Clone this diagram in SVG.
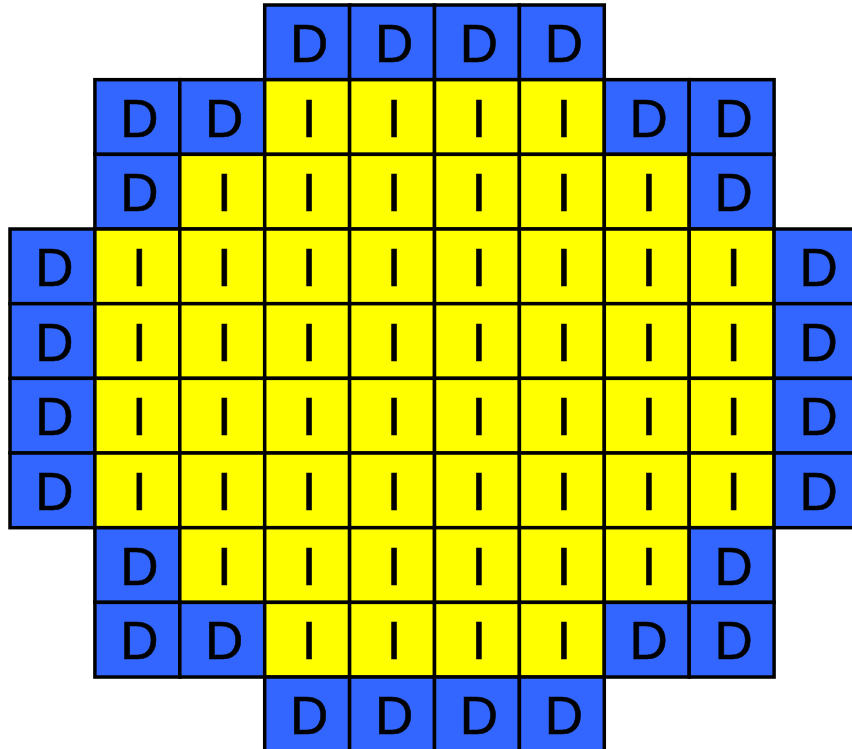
<svg xmlns="http://www.w3.org/2000/svg" width="852" height="749" viewBox="0 0 852 749">
<style>
.d{fill:#3366FF;stroke:#000;stroke-width:3.5}
.i{fill:#FFFF00;stroke:#000;stroke-width:3.5}
text{font-family:"Liberation Sans",Arial,sans-serif;font-size:53px;fill:#000;stroke:#000;stroke-width:0.6;text-anchor:middle}
</style>
<rect width="852" height="749" fill="#fff"/>
<g id="grid">
<g id="r0">
<g id="c0_3"><rect class="d" x="264.7" y="5" width="84.9" height="74.67"/><text x="309.15" y="62">D</text></g>
<g id="c0_4"><rect class="d" x="349.6" y="5" width="84.9" height="74.67"/><text x="394.05" y="62">D</text></g>
<g id="c0_5"><rect class="d" x="434.5" y="5" width="84.9" height="74.67"/><text x="478.95" y="62">D</text></g>
<g id="c0_6"><rect class="d" x="519.4" y="5" width="84.9" height="74.67"/><text x="563.85" y="62">D</text></g>
</g>
<g id="r1">
<g id="c1_1"><rect class="d" x="94.9" y="79.67" width="84.9" height="74.67"/><text x="139.35" y="136.67">D</text></g>
<g id="c1_2"><rect class="d" x="179.8" y="79.67" width="84.9" height="74.67"/><text x="224.25" y="136.67">D</text></g>
<g id="c1_3"><rect class="i" x="264.7" y="79.67" width="84.9" height="74.67"/><text x="309.15" y="136.67">I</text></g>
<g id="c1_4"><rect class="i" x="349.6" y="79.67" width="84.9" height="74.67"/><text x="394.05" y="136.67">I</text></g>
<g id="c1_5"><rect class="i" x="434.5" y="79.67" width="84.9" height="74.67"/><text x="478.95" y="136.67">I</text></g>
<g id="c1_6"><rect class="i" x="519.4" y="79.67" width="84.9" height="74.67"/><text x="563.85" y="136.67">I</text></g>
<g id="c1_7"><rect class="d" x="604.3" y="79.67" width="84.9" height="74.67"/><text x="648.75" y="136.67">D</text></g>
<g id="c1_8"><rect class="d" x="689.2" y="79.67" width="84.9" height="74.67"/><text x="733.65" y="136.67">D</text></g>
</g>
<g id="r2">
<g id="c2_1"><rect class="d" x="94.9" y="154.34" width="84.9" height="74.67"/><text x="139.35" y="211.34">D</text></g>
<g id="c2_2"><rect class="i" x="179.8" y="154.34" width="84.9" height="74.67"/><text x="224.25" y="211.34">I</text></g>
<g id="c2_3"><rect class="i" x="264.7" y="154.34" width="84.9" height="74.67"/><text x="309.15" y="211.34">I</text></g>
<g id="c2_4"><rect class="i" x="349.6" y="154.34" width="84.9" height="74.67"/><text x="394.05" y="211.34">I</text></g>
<g id="c2_5"><rect class="i" x="434.5" y="154.34" width="84.9" height="74.67"/><text x="478.95" y="211.34">I</text></g>
<g id="c2_6"><rect class="i" x="519.4" y="154.34" width="84.9" height="74.67"/><text x="563.85" y="211.34">I</text></g>
<g id="c2_7"><rect class="i" x="604.3" y="154.34" width="84.9" height="74.67"/><text x="648.75" y="211.34">I</text></g>
<g id="c2_8"><rect class="d" x="689.2" y="154.34" width="84.9" height="74.67"/><text x="733.65" y="211.34">D</text></g>
</g>
<g id="r3">
<g id="c3_0"><rect class="d" x="10" y="229.01" width="84.9" height="74.67"/><text x="54.45" y="286.01">D</text></g>
<g id="c3_1"><rect class="i" x="94.9" y="229.01" width="84.9" height="74.67"/><text x="139.35" y="286.01">I</text></g>
<g id="c3_2"><rect class="i" x="179.8" y="229.01" width="84.9" height="74.67"/><text x="224.25" y="286.01">I</text></g>
<g id="c3_3"><rect class="i" x="264.7" y="229.01" width="84.9" height="74.67"/><text x="309.15" y="286.01">I</text></g>
<g id="c3_4"><rect class="i" x="349.6" y="229.01" width="84.9" height="74.67"/><text x="394.05" y="286.01">I</text></g>
<g id="c3_5"><rect class="i" x="434.5" y="229.01" width="84.9" height="74.67"/><text x="478.95" y="286.01">I</text></g>
<g id="c3_6"><rect class="i" x="519.4" y="229.01" width="84.9" height="74.67"/><text x="563.85" y="286.01">I</text></g>
<g id="c3_7"><rect class="i" x="604.3" y="229.01" width="84.9" height="74.67"/><text x="648.75" y="286.01">I</text></g>
<g id="c3_8"><rect class="i" x="689.2" y="229.01" width="84.9" height="74.67"/><text x="733.65" y="286.01">I</text></g>
<g id="c3_9"><rect class="d" x="774.1" y="229.01" width="84.9" height="74.67"/><text x="818.55" y="286.01">D</text></g>
</g>
<g id="r4">
<g id="c4_0"><rect class="d" x="10" y="303.68" width="84.9" height="74.67"/><text x="54.45" y="360.68">D</text></g>
<g id="c4_1"><rect class="i" x="94.9" y="303.68" width="84.9" height="74.67"/><text x="139.35" y="360.68">I</text></g>
<g id="c4_2"><rect class="i" x="179.8" y="303.68" width="84.9" height="74.67"/><text x="224.25" y="360.68">I</text></g>
<g id="c4_3"><rect class="i" x="264.7" y="303.68" width="84.9" height="74.67"/><text x="309.15" y="360.68">I</text></g>
<g id="c4_4"><rect class="i" x="349.6" y="303.68" width="84.9" height="74.67"/><text x="394.05" y="360.68">I</text></g>
<g id="c4_5"><rect class="i" x="434.5" y="303.68" width="84.9" height="74.67"/><text x="478.95" y="360.68">I</text></g>
<g id="c4_6"><rect class="i" x="519.4" y="303.68" width="84.9" height="74.67"/><text x="563.85" y="360.68">I</text></g>
<g id="c4_7"><rect class="i" x="604.3" y="303.68" width="84.9" height="74.67"/><text x="648.75" y="360.68">I</text></g>
<g id="c4_8"><rect class="i" x="689.2" y="303.68" width="84.9" height="74.67"/><text x="733.65" y="360.68">I</text></g>
<g id="c4_9"><rect class="d" x="774.1" y="303.68" width="84.9" height="74.67"/><text x="818.55" y="360.68">D</text></g>
</g>
<g id="r5">
<g id="c5_0"><rect class="d" x="10" y="378.35" width="84.9" height="74.67"/><text x="54.45" y="435.35">D</text></g>
<g id="c5_1"><rect class="i" x="94.9" y="378.35" width="84.9" height="74.67"/><text x="139.35" y="435.35">I</text></g>
<g id="c5_2"><rect class="i" x="179.8" y="378.35" width="84.9" height="74.67"/><text x="224.25" y="435.35">I</text></g>
<g id="c5_3"><rect class="i" x="264.7" y="378.35" width="84.9" height="74.67"/><text x="309.15" y="435.35">I</text></g>
<g id="c5_4"><rect class="i" x="349.6" y="378.35" width="84.9" height="74.67"/><text x="394.05" y="435.35">I</text></g>
<g id="c5_5"><rect class="i" x="434.5" y="378.35" width="84.9" height="74.67"/><text x="478.95" y="435.35">I</text></g>
<g id="c5_6"><rect class="i" x="519.4" y="378.35" width="84.9" height="74.67"/><text x="563.85" y="435.35">I</text></g>
<g id="c5_7"><rect class="i" x="604.3" y="378.35" width="84.9" height="74.67"/><text x="648.75" y="435.35">I</text></g>
<g id="c5_8"><rect class="i" x="689.2" y="378.35" width="84.9" height="74.67"/><text x="733.65" y="435.35">I</text></g>
<g id="c5_9"><rect class="d" x="774.1" y="378.35" width="84.9" height="74.67"/><text x="818.55" y="435.35">D</text></g>
</g>
<g id="r6">
<g id="c6_0"><rect class="d" x="10" y="453.02" width="84.9" height="74.67"/><text x="54.45" y="510.02">D</text></g>
<g id="c6_1"><rect class="i" x="94.9" y="453.02" width="84.9" height="74.67"/><text x="139.35" y="510.02">I</text></g>
<g id="c6_2"><rect class="i" x="179.8" y="453.02" width="84.9" height="74.67"/><text x="224.25" y="510.02">I</text></g>
<g id="c6_3"><rect class="i" x="264.7" y="453.02" width="84.9" height="74.67"/><text x="309.15" y="510.02">I</text></g>
<g id="c6_4"><rect class="i" x="349.6" y="453.02" width="84.9" height="74.67"/><text x="394.05" y="510.02">I</text></g>
<g id="c6_5"><rect class="i" x="434.5" y="453.02" width="84.9" height="74.67"/><text x="478.95" y="510.02">I</text></g>
<g id="c6_6"><rect class="i" x="519.4" y="453.02" width="84.9" height="74.67"/><text x="563.85" y="510.02">I</text></g>
<g id="c6_7"><rect class="i" x="604.3" y="453.02" width="84.9" height="74.67"/><text x="648.75" y="510.02">I</text></g>
<g id="c6_8"><rect class="i" x="689.2" y="453.02" width="84.9" height="74.67"/><text x="733.65" y="510.02">I</text></g>
<g id="c6_9"><rect class="d" x="774.1" y="453.02" width="84.9" height="74.67"/><text x="818.55" y="510.02">D</text></g>
</g>
<g id="r7">
<g id="c7_1"><rect class="d" x="94.9" y="527.69" width="84.9" height="74.67"/><text x="139.35" y="584.69">D</text></g>
<g id="c7_2"><rect class="i" x="179.8" y="527.69" width="84.9" height="74.67"/><text x="224.25" y="584.69">I</text></g>
<g id="c7_3"><rect class="i" x="264.7" y="527.69" width="84.9" height="74.67"/><text x="309.15" y="584.69">I</text></g>
<g id="c7_4"><rect class="i" x="349.6" y="527.69" width="84.9" height="74.67"/><text x="394.05" y="584.69">I</text></g>
<g id="c7_5"><rect class="i" x="434.5" y="527.69" width="84.9" height="74.67"/><text x="478.95" y="584.69">I</text></g>
<g id="c7_6"><rect class="i" x="519.4" y="527.69" width="84.9" height="74.67"/><text x="563.85" y="584.69">I</text></g>
<g id="c7_7"><rect class="i" x="604.3" y="527.69" width="84.9" height="74.67"/><text x="648.75" y="584.69">I</text></g>
<g id="c7_8"><rect class="d" x="689.2" y="527.69" width="84.9" height="74.67"/><text x="733.65" y="584.69">D</text></g>
</g>
<g id="r8">
<g id="c8_1"><rect class="d" x="94.9" y="602.36" width="84.9" height="74.67"/><text x="139.35" y="659.36">D</text></g>
<g id="c8_2"><rect class="d" x="179.8" y="602.36" width="84.9" height="74.67"/><text x="224.25" y="659.36">D</text></g>
<g id="c8_3"><rect class="i" x="264.7" y="602.36" width="84.9" height="74.67"/><text x="309.15" y="659.36">I</text></g>
<g id="c8_4"><rect class="i" x="349.6" y="602.36" width="84.9" height="74.67"/><text x="394.05" y="659.36">I</text></g>
<g id="c8_5"><rect class="i" x="434.5" y="602.36" width="84.9" height="74.67"/><text x="478.95" y="659.36">I</text></g>
<g id="c8_6"><rect class="i" x="519.4" y="602.36" width="84.9" height="74.67"/><text x="563.85" y="659.36">I</text></g>
<g id="c8_7"><rect class="d" x="604.3" y="602.36" width="84.9" height="74.67"/><text x="648.75" y="659.36">D</text></g>
<g id="c8_8"><rect class="d" x="689.2" y="602.36" width="84.9" height="74.67"/><text x="733.65" y="659.36">D</text></g>
</g>
<g id="r9">
<g id="c9_3"><rect class="d" x="264.7" y="677.03" width="84.9" height="74.67"/><text x="309.15" y="734.03">D</text></g>
<g id="c9_4"><rect class="d" x="349.6" y="677.03" width="84.9" height="74.67"/><text x="394.05" y="734.03">D</text></g>
<g id="c9_5"><rect class="d" x="434.5" y="677.03" width="84.9" height="74.67"/><text x="478.95" y="734.03">D</text></g>
<g id="c9_6"><rect class="d" x="519.4" y="677.03" width="84.9" height="74.67"/><text x="563.85" y="734.03">D</text></g>
</g>
</g>
</svg>
